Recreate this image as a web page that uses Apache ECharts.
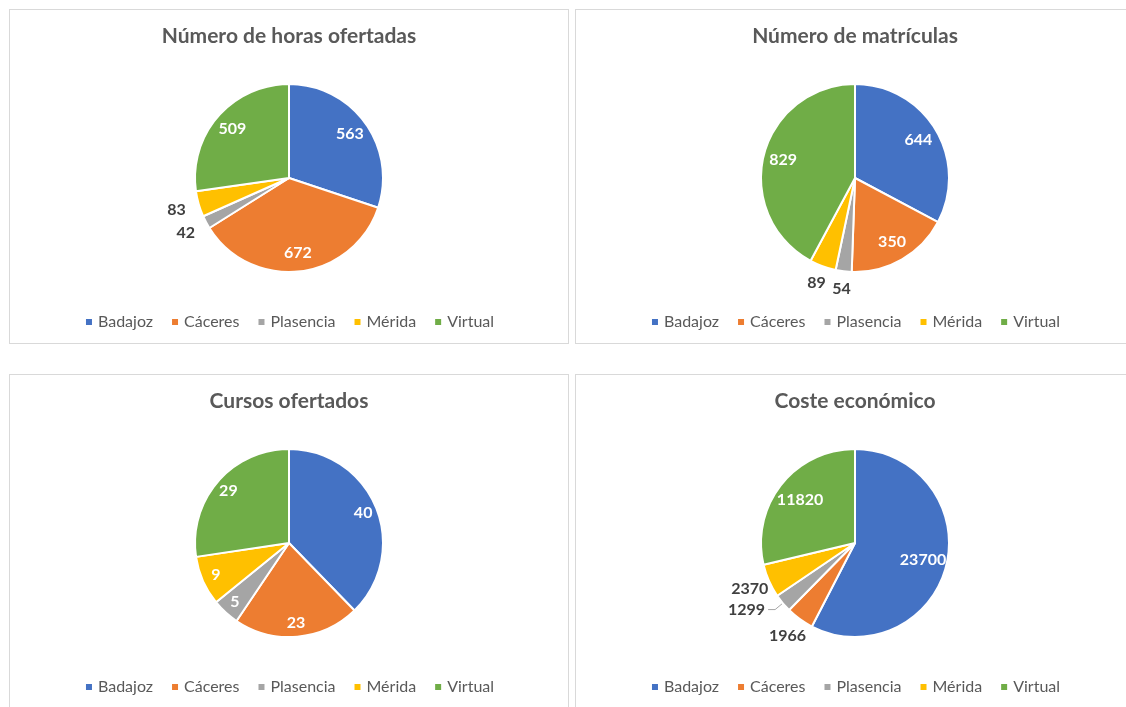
<!DOCTYPE html>
<html><head><meta charset="utf-8">
<script src="https://cdn.jsdelivr.net/npm/echarts@6/dist/echarts.min.js"></script>
<style>
html,body{margin:0;padding:0;background:#fff;width:1126px;height:707px;overflow:hidden;}
.panel{position:absolute;width:560px;border:1px solid #d9d9d9;box-sizing:border-box;background:#fff;}
</style></head>
<body>
<div id="c1" class="panel" style="left:9px;top:9px;height:335px;"></div>
<div id="c2" class="panel" style="left:575px;top:9px;height:335px;"></div>
<div id="c3" class="panel" style="left:9px;top:374px;height:345px;"></div>
<div id="c4" class="panel" style="left:575px;top:374px;height:345px;"></div>
<script>
// ---- data ----
const categories = ['Badajoz', 'Cáceres', 'Plasencia', 'Mérida', 'Virtual'];
const horasOfertadas = [563, 672, 42, 83, 509];
const matriculas = [644, 350, 54, 89, 829];
const cursosOfertados = [40, 23, 5, 9, 29];
const costeEconomico = [23700, 1966, 1299, 2370, 11820];
const chartTitles = ['Número de horas ofertadas', 'Número de matrículas', 'Cursos ofertados', 'Coste económico'];

// ---- label placement (style only) ----
const placement1 = ['in', 'in', 'out', 'out', 'in'];
const placement2 = ['in', 'in', 'out', 'out', 'in'];
const placement3 = ['in', 'in', 'in', 'in', 'in'];
const placement4 = ['in', 'out', 'line', 'out', 'in'];

const colors = ['#4472C4', '#ED7D31', '#A5A5A5', '#FFC000', '#70AD47'];
const FONT = 'Lato, "Open Sans", sans-serif';
const R = 94;

function build(el, title, values, placement, inR0, outD) {
  const chart = echarts.init(document.getElementById(el), null, {renderer: 'canvas'});
  const center = [279, 168];
  const mk = (fn) => categories.map((c, i) => fn(c, i));
  const transparent = {color: 'rgba(0,0,0,0)', borderWidth: 0};
  const baseLabel = {fontFamily: FONT, fontSize: 16, fontWeight: 'bold'};
  const common = {type: 'pie', center: center, startAngle: 90, clockwise: true,
    avoidLabelOverlap: false, emphasis: {disabled: true}, silent: true, animation: false};
  const option = {
    animation: false,
    color: colors,
    title: {text: title, left: 'center', top: 11,
      textStyle: {fontFamily: FONT, fontSize: 21, fontWeight: 'bold', color: '#595959'}},
    legend: {
      top: 299, left: 'center', icon: 'rect', itemWidth: 8, itemHeight: 8, itemGap: 17,
      textStyle: {fontFamily: FONT, fontSize: 16, color: '#595959'},
      data: mk((c, i) => ({name: c, itemStyle: {color: colors[i]}}))
    },
    series: [
      Object.assign({}, common, {
        radius: [0, R],
        itemStyle: {borderColor: '#fff', borderWidth: 2},
        label: Object.assign({}, baseLabel, {show: false, color: '#404040'}),
        labelLine: {show: false},
        data: mk((c, i) => {
          const d = {name: c, value: values[i], itemStyle: {color: colors[i]}};
          if (placement[i] === 'line') {
            d.label = {show: true, position: 'outside', formatter: '{c}', distanceToLabelLine: 3};
            d.labelLine = {show: true, length: 10, length2: 7, lineStyle: {color: '#A5A5A5', width: 1}};
          }
          return d;
        })
      }),
      Object.assign({}, common, {
        radius: [inR0, R],
        itemStyle: transparent,
        label: Object.assign({}, baseLabel, {show: true, position: 'inside', color: '#fff', formatter: '{c}'}),
        labelLine: {show: false},
        data: mk((c, i) => ({name: c, value: values[i], itemStyle: transparent,
          label: {show: placement[i] === 'in'}}))
      }),
      Object.assign({}, common, {
        radius: [outD - 12, outD + 12],
        itemStyle: transparent,
        label: Object.assign({}, baseLabel, {show: true, position: 'inside', color: '#404040', formatter: '{c}'}),
        labelLine: {show: false},
        data: mk((c, i) => ({name: c, value: values[i], itemStyle: transparent,
          label: {show: placement[i] === 'out'}}))
      })
    ]
  };
  chart.setOption(option);
}

build('c1', chartTitles[0], horasOfertadas, placement1, 50, 114);
build('c2', chartTitles[1], matriculas, placement2, 48, 109);
build('c3', chartTitles[2], cursosOfertados, placement3, 60, 110);
build('c4', chartTitles[3], costeEconomico, placement4, 40, 112);
</script>
</body></html>
